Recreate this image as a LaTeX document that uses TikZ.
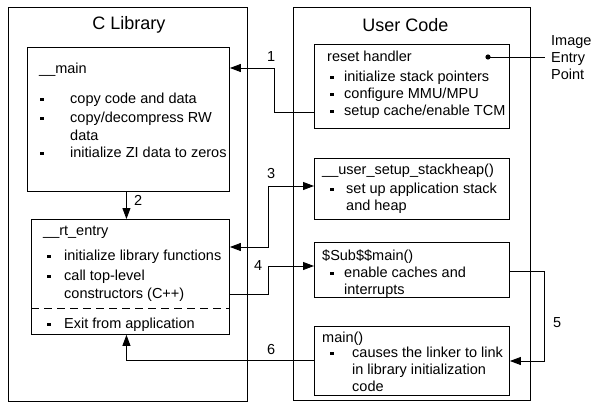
\documentclass[tikz,border=0pt]{standalone}
\usepackage{fontspec}
\setmainfont{Liberation Sans}
\usetikzlibrary{arrows.meta}
\newcommand\fs{\fontsize{14.5}{17}\selectfont}
\newcommand\ft{\fontsize{18}{21}\selectfont}
\tikzset{
  box/.style={draw, line width=0.9pt, rectangle, inner sep=0, anchor=north west},
  t/.style={anchor=base west, inner sep=0, font=\fs},
  tt/.style={anchor=base, inner sep=0, font=\ft},
  conn/.style={line width=0.9pt},
  arr/.style={conn, -{Triangle[length=11pt,width=8pt]}},
  arrb/.style={conn, {Triangle[length=11pt,width=8pt]}-{Triangle[length=11pt,width=8pt]}},
}
% bullet item: name, bullet x, text x, baseline y, text
\newcommand{\bitem}[5]{%
  \fill (#2-1.8,#4-5.4) rectangle (#2+1.8,#4-1.8);
  \node[t] (#1) at (#3,#4) {#5};}
\begin{document}
\begin{tikzpicture}[x=1pt,y=-1pt]
\useasboundingbox (0,0) rectangle (598,407);
% outer containers
\node[box, minimum width=239pt, minimum height=394pt] (clib) at (8,7) {};
\node[box, minimum width=237pt, minimum height=393pt] (user) at (293,7) {};
\node[tt] (clibt) at (129,29) {C Library};
\node[tt] (usert) at (405.5,31) {User Code};
% __main
\node[box, minimum width=202pt, minimum height=144pt] (main) at (27,47) {};
\node[t] (mt) at (39,73) {\_\_main};
\bitem{m1}{42}{70}{103}{copy code and data}
\bitem{m2}{42}{70}{122}{copy/decompress RW}
\node[t] (m2b) at (70,140) {data};
\bitem{m3}{42}{70}{157}{initialize ZI data to zeros}
% __rt_entry
\node[box, minimum width=198pt, minimum height=115pt] (rt) at (31,219) {};
\node[t] (rtt) at (43,235) {\_\_rt\_entry};
\bitem{r1}{49}{64}{260}{initialize library functions}
\bitem{r2}{49}{64}{280}{call top-level}
\node[t] (r2b) at (64,298) {constructors (C++)};
\draw[line width=0.9pt, dash pattern=on 8pt off 5pt] ([yshift=26pt]rt.south west) -- ([yshift=26pt]rt.south east);
\bitem{r3}{49}{64}{328}{Exit from application}
% reset handler
\node[box, minimum width=195pt, minimum height=84pt] (reset) at (314,44) {};
\node[t] (rst) at (327,61) {reset handler};
\bitem{s1}{332}{344}{81}{initialize stack pointers}
\bitem{s2}{332}{344}{98}{configure MMU/MPU}
\bitem{s3}{332}{344}{115}{setup cache/enable TCM}
\fill (488,57) circle (2.6pt);
\coordinate (dot) at (488,57);
\coordinate (entry) at (545,57);
\draw[conn] (dot) -- (entry);
\node[t, align=left] (ie1) at (551,45) {Image};
\node[t] (ie2) at (551,62) {Entry};
\node[t] (ie3) at (551,79) {Point};
% stackheap
\node[box, minimum width=195pt, minimum height=61pt] (stack) at (314,158) {};
\node[t] (stt) at (322,174) {\_\_user\_setup\_stackheap()};
\bitem{h1}{332}{346}{193}{set up application stack}
\node[t] (h1b) at (346,210) {and heap};
% $Sub$$main
\node[box, minimum width=195pt, minimum height=55pt] (sub) at (314,242) {};
\node[t] (subt) at (322,260) {\$Sub\$\$main()};
\bitem{b1}{332}{344}{277}{enable caches and}
\node[t] (b1b) at (344,294) {interrupts};
% main()
\node[box, minimum width=195pt, minimum height=69pt] (umain) at (314,326) {};
\node[t] (umt) at (322,342) {main()};
\bitem{u1}{332}{352}{357}{causes the linker to link}
\node[t] (u1b) at (352,374) {in library initialization};
\node[t] (u1c) at (352,391) {code};
% connectors
\draw[arr] ([yshift=16pt]reset.south west) -- ++(-40,0) |- ([yshift=-21pt]main.north east);
\node[t] (l1) at (267,61) {1};
\draw[arr] ([xshift=-2pt]main.south) -- ([xshift=-2pt]main.south |- rt.north);
\node[t] (l2) at (134,205) {2};
\draw[arrb] ([yshift=-28pt]rt.north east) -- ++(39,0) |- ([yshift=-28pt]stack.north west);
\node[t] (l3) at (267,178) {3};
\draw[arr] ([yshift=40pt]rt.south east) -- ++(39,0) |- ([yshift=-24pt]sub.north west);
\node[t] (l4) at (254,270) {4};
\draw[arr] ([yshift=-29pt]sub.north east) -- ++(35,0) |- ([yshift=-35pt]umain.north east);
\node[t] (l5) at (553,327) {5};
\draw[arr] ([yshift=-34pt]umain.north west) -| ([xshift=-4pt]rt.south);
\node[t] (l6) at (267,354) {6};
\end{tikzpicture}
\end{document}
